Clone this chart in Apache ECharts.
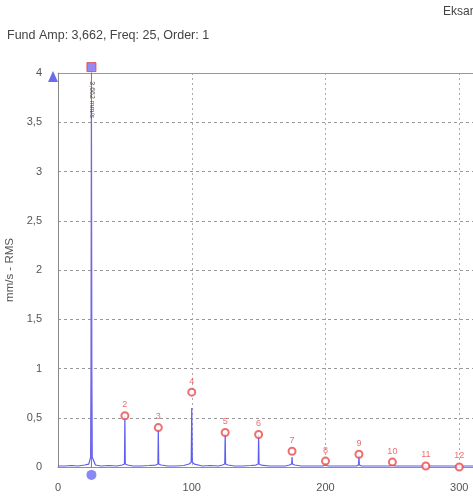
<!DOCTYPE html>
<html><head><meta charset="utf-8">
<script src="https://cdn.jsdelivr.net/npm/echarts@6/dist/echarts.min.js"></script>
<style>html,body{margin:0;padding:0;background:#fff}#c{width:473px;height:498px}</style>
</head><body><div id="c"></div>
<script>
// Spectrum trace (frequency, amplitude mm/s RMS)
const specFreq = [0,5,10,15,20,23,24.4,24.7,25,25.3,25.6,28,32,38,44,48,49.7,50,50.3,52,56,62,68,73,74.7,75,75.3,77,82,88,94,98,99.6,100,100.4,102,108,114,120,123,124.7,125,125.3,127,132,138,144,148,149.7,150,150.3,152,158,164,170,173,174.7,175,175.3,177,182,188,194,198,199.7,200,200.3,202,208,214,220,223,224.7,225,225.3,227,232,238,244,248,249.7,250,250.3,252,258,264,270,273,274.7,275,275.3,277,282,288,294,298,299.7,300,300.3,302,310,320];
const specAmp  = [0.01,0.01,0.015,0.01,0.02,0.03,0.1,0.96,3.662,0.96,0.1,0.02,0.01,0.015,0.01,0.02,0.03,0.52,0.03,0.02,0.01,0.01,0.015,0.02,0.03,0.38,0.03,0.02,0.01,0.01,0.015,0.03,0.05,0.6,0.05,0.03,0.01,0.015,0.01,0.02,0.03,0.35,0.03,0.02,0.01,0.01,0.015,0.02,0.03,0.33,0.03,0.02,0.01,0.01,0.01,0.02,0.03,0.1,0.03,0.02,0.01,0.01,0.01,0.01,0.02,0.03,0.02,0.01,0.01,0.01,0.01,0.01,0.02,0.12,0.02,0.01,0.01,0.01,0.01,0.01,0.02,0.04,0.02,0.01,0.01,0.01,0.01,0.01,0.01,0.01,0.01,0.01,0.01,0.01,0.01,0.01,0.01,0.02,0.01,0.01,0.01,0.01];
// Harmonic markers
const harmOrder = [2,3,4,5,6,7,8,9,10,11,12];
const harmFreq  = [50,75,100,125,150,175,200,225,250,275,300];
const harmAmp   = [0.52,0.40,0.76,0.35,0.33,0.16,0.06,0.13,0.05,0.01,0.0];
// Fundamental cursor
const fundFreq = 25, fundAmp = 3.662, fundOrder = 1;
const xTicks = [0,100,200,300];

const chart = echarts.init(document.getElementById('c'));
const fmt = v => String(v).replace('.', ',');
chart.setOption({
  animation:false,
  textStyle:{fontFamily:'Liberation Sans, Arial, sans-serif'},
  graphic:[
    {type:'text',left:7,top:29,style:{text:'Fund Amp: '+fmt(fundAmp)+', Freq: '+fundFreq+', Order: '+fundOrder,fontSize:12.5,fill:'#444',fontFamily:'Liberation Sans'}},
    {type:'text',left:443,top:6,style:{text:'Eksantrik',fontSize:12,fill:'#444',fontFamily:'Liberation Sans'}},
    {type:'polygon',shape:{points:[[48,82],[58,82],[53,71]]},style:{fill:'#6b6bf0'}}
  ],
  grid:{left:58,top:73,width:428,height:394,show:false,outerBoundsMode:'none',containLabel:false},
  xAxis:[{type:'value',min:0,max:320,interval:100,
    axisLine:{show:true,lineStyle:{color:'#8888cc'}},axisTick:{show:false},
    axisLabel:{color:'#555',fontSize:11,margin:15,customValues:xTicks},
    splitLine:{show:true,lineStyle:{color:'#aaa',type:[2,3]}}},
    {type:'value',position:'top',min:0,max:320,
    axisLine:{show:true,lineStyle:{color:'#999'}},axisTick:{show:false},axisLabel:{show:false},splitLine:{show:false}}],
  yAxis:{type:'value',min:0,max:4,interval:0.5,
    name:'mm/s - RMS',nameLocation:'middle',nameGap:42,nameRotate:90,
    nameTextStyle:{color:'#555',fontSize:11.5},
    axisLine:{show:true,lineStyle:{color:'#888'}},axisTick:{show:false},
    axisLabel:{color:'#555',fontSize:11,margin:16,formatter:fmt},
    splitLine:{show:true,lineStyle:{color:'#999',type:[3,3]}}},
  series:[
    {type:'line',data:specFreq.map((f,i)=>[f,specAmp[i]]),symbol:'none',
     lineStyle:{color:'#5d5df0',width:1.2},z:2},
    {type:'line',data:[[fundFreq,0],[fundFreq,4.06]],symbol:'none',
     lineStyle:{color:'#f04848',width:1},z:3},
    {type:'scatter',data:[[fundFreq,4.06]],symbol:'rect',symbolSize:9,clip:false,
     itemStyle:{color:'#7a6cf0',borderColor:'#e04040',borderWidth:1},z:5},
    {type:'scatter',data:[[fundFreq,-0.08]],symbol:'circle',symbolSize:10,clip:false,
     itemStyle:{color:'#6b6bf0'},z:5},
    {type:'scatter',data:[[fundFreq,3.73]],symbol:'circle',symbolSize:1,clip:false,
     itemStyle:{color:'transparent'},
     label:{show:true,formatter:fmt(fundAmp)+' mm/s',rotate:-90,color:'#333',fontSize:7,position:'inside'},z:6},
    {type:'scatter',data:harmFreq.map((f,i)=>[f,harmAmp[i],harmOrder[i]]),
     symbol:'emptyCircle',symbolSize:7,clip:false,
     itemStyle:{color:'#e84a4a',borderColor:'#e84a4a',borderWidth:1},
     label:{show:true,position:'top',distance:2,color:'#e84a4a',fontSize:9,formatter:p=>p.data[2]},z:4}
  ]
});
</script></body></html>
